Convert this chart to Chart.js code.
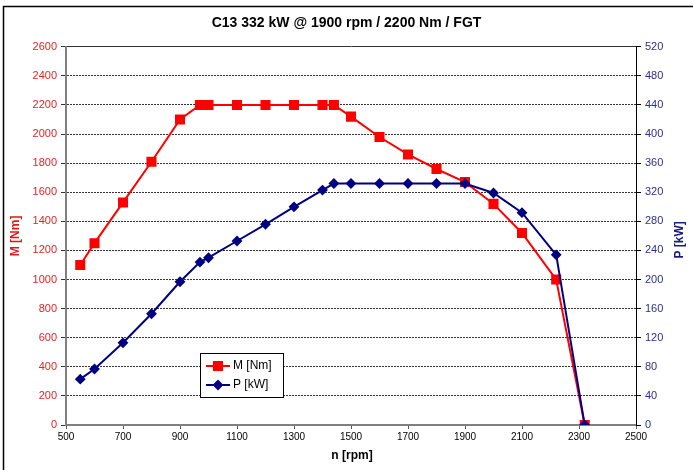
<!DOCTYPE html>
<html>
<head>
<meta charset="utf-8">
<script src="https://cdn.jsdelivr.net/npm/chart.js@4.4.0/dist/chart.umd.min.js"></script>
<style>
    html, body { margin: 0; padding: 0; background: #fff; }
    #wrap { width: 693px; height: 470px; }
</style>
</head>
<body>
<div id="wrap"><canvas id="myChart"></canvas></div>
<script>
    // engine speed [rpm], torque [Nm], power [kW]
    const rpm = [550, 600, 700, 800, 900, 970, 1000, 1100, 1200, 1300, 1400, 1440, 1500, 1600, 1700, 1800, 1900, 2000, 2100, 2220, 2320];
    const torque = [1100, 1250, 1530, 1810, 2100, 2200, 2200, 2200, 2200, 2200, 2200, 2200, 2120, 1980, 1860, 1760, 1670, 1520, 1320, 1000, 0];
    const power = [63, 77, 113, 153, 197, 224, 230, 253, 276, 300, 323, 332, 332, 332, 332, 332, 332, 319, 292, 234, 0];

    const titleText = 'C13 332 kW @ 1900 rpm / 2200 Nm / FGT';
    const xTitle = 'n [rpm]';
    const leftTitle = 'M [Nm]';
    const rightTitle = 'P [kW]';

    const FONT = "'Liberation Sans', Arial, sans-serif";
    const RED = '#ff0000';
    const NAVY = '#000080';

    function pairs(ys) {
        return rpm.map(function (x, i) { return {x: x, y: ys[i]}; });
    }

    // frame around the whole chart + axis titles + legend box inside plot
    const decorations = {
        id: 'decorations',
        beforeDraw(chart) {
            const c = chart.ctx;
            c.save();
            c.fillStyle = '#fff';
            c.fillRect(0, 0, chart.width, chart.height);
            c.strokeStyle = '#000';
            c.lineWidth = 1.5;
            c.strokeRect(3.5, 6.5, 720, 500);
            c.restore();
        },
        afterDraw(chart) {
            const c = chart.ctx;
            const area = chart.chartArea;
            c.save();
            c.font = 'bold 12px ' + FONT;
            c.textAlign = 'center';
            c.textBaseline = 'middle';
            c.fillStyle = '#000';
            c.fillText(xTitle, (area.left + area.right) / 2 + 1, 456);

            c.save();
            c.translate(16, (area.top + area.bottom) / 2);
            c.rotate(-Math.PI / 2);
            c.fillStyle = '#e01818';
            c.fillText(leftTitle, 0, 0);
            c.restore();

            c.save();
            c.translate(680, (area.top + area.bottom) / 2 + 4);
            c.rotate(-Math.PI / 2);
            c.fillStyle = '#1a1a80';
            c.fillText(rightTitle, 0, 0);
            c.restore();

            // legend
            const bx = 200.5, by = 353.5, bw = 83, bh = 44;
            c.fillStyle = '#fff';
            c.fillRect(bx, by, bw, bh);
            c.strokeStyle = '#000';
            c.lineWidth = 1;
            c.strokeRect(bx, by, bw, bh);
            const items = [chart.data.datasets[1], chart.data.datasets[0]];
            c.font = '12px ' + FONT;
            c.textAlign = 'left';
            items.forEach(function (ds, i) {
                const y = 366 + i * 19;
                c.strokeStyle = ds.borderColor;
                c.lineWidth = 2;
                c.beginPath();
                c.moveTo(206, y);
                c.lineTo(230, y);
                c.stroke();
                Chart.helpers.drawPoint(c, {
                    pointStyle: ds.pointStyle,
                    radius: ds.pointRadius,
                    borderWidth: 1,
                    rotation: 0
                }, 218, y);
                c.fillStyle = ds.pointBackgroundColor;
                c.strokeStyle = ds.borderColor;
                c.fill();
                c.fillStyle = '#000';
                c.fillText(ds.label, 233, y);
            });
            c.restore();
        }
    };

    let ctx = document.getElementById('myChart').getContext('2d');
    let myChart = new Chart(ctx, {
        type: 'line',
        data: {
            datasets: [{
                label: 'P [kW]',
                data: pairs(power),
                yAxisID: 'y1',
                borderColor: NAVY,
                backgroundColor: NAVY,
                pointBackgroundColor: NAVY,
                pointBorderColor: NAVY,
                pointStyle: 'rectRot',
                pointRadius: 4,
                borderWidth: 2,
                tension: 0
            }, {
                label: 'M [Nm]',
                data: pairs(torque),
                yAxisID: 'y',
                borderColor: RED,
                backgroundColor: RED,
                pointBackgroundColor: RED,
                pointBorderColor: RED,
                pointStyle: 'rect',
                pointRadius: 5.7,
                borderWidth: 2,
                tension: 0
            }]
        },
        options: {
            responsive: true,
            maintainAspectRatio: false,
            animation: false,
            layout: { padding: 0 },
            plugins: {
                legend: { display: false },
                tooltip: { enabled: false },
                title: {
                    display: true,
                    text: titleText,
                    color: '#000',
                    font: { family: FONT, size: 14, weight: 'bold' },
                    padding: { top: 15, bottom: 15 }
                }
            },
            scales: {
                x: {
                    type: 'linear',
                    min: 500,
                    max: 2500,
                    afterFit: function (s) { s.height = 45; },
                    ticks: { stepSize: 200, color: '#000', font: { family: FONT, size: 10 }, padding: 2, maxRotation: 0, format: { useGrouping: false } },
                    grid: { drawOnChartArea: false, tickLength: 4, color: '#555' },
                    border: { color: '#808080', width: 2 }
                },
                y: {
                    position: 'left',
                    min: 0,
                    max: 2600,
                    afterFit: function (s) { s.width = 66; },
                    ticks: { stepSize: 200, color: '#dd2626', font: { family: FONT, size: 11 }, padding: 4, format: { useGrouping: false } },
                    grid: { color: '#333', lineWidth: 1, tickLength: 5, tickColor: '#333' },
                    border: {
                        color: '#808080',
                        width: 2,
                        dash: function (c) { return c.tick && c.tick.value === 2600 ? [] : [2, 1]; }
                    }
                },
                y1: {
                    position: 'right',
                    min: 0,
                    max: 520,
                    afterFit: function (s) { s.width = 57; },
                    ticks: { stepSize: 40, color: '#2e2e8a', font: { family: FONT, size: 11 }, padding: 4 },
                    grid: { drawOnChartArea: false, tickLength: 5, color: '#000' },
                    border: { color: '#000', width: 1 }
                }
            }
        },
        plugins: [decorations]
    });
</script>
</body>
</html>
